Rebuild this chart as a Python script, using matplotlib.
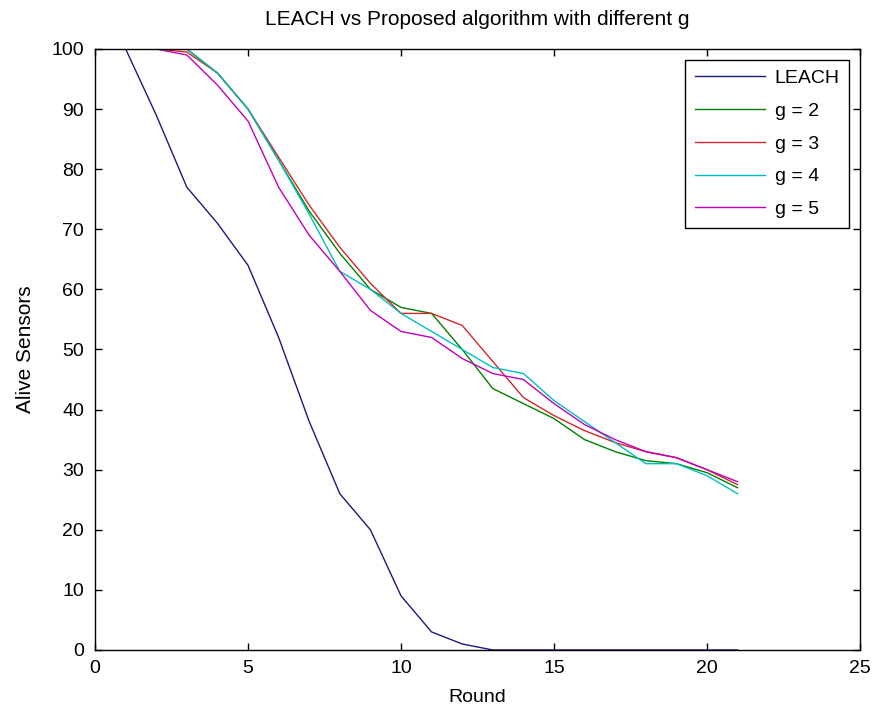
import matplotlib
matplotlib.use("Agg")
import matplotlib.pyplot as plt

rounds = list(range(1, 22))
leach = [100, 89, 77, 71, 64, 52, 38, 26, 20, 9, 3, 1, 0, 0, 0, 0, 0, 0, 0, 0, 0]
g2 = [100, 100, 100, 96, 90, 81.5, 73, 66, 60, 57, 56, 50, 43.5, 41, 38.5, 35, 33, 31.5, 31, 29.5, 27]
g3 = [100, 100, 99.5, 96, 90, 82, 74, 67, 61, 56, 56, 54, 48, 42, 39, 36.5, 34.5, 33, 32, 30, 27.5]
g4 = [100, 100, 100, 96, 90, 81.5, 72.5, 63, 60, 56, 53, 50, 47, 46, 41.5, 38, 34.5, 31, 31, 29, 26]
g5 = [100, 100, 99, 94, 88, 77, 69, 63, 56.5, 53, 52, 48.5, 46, 45, 41, 37.5, 35, 33, 32, 30, 28]

labels = ["LEACH", "g = 2", "g = 3", "g = 4", "g = 5"]
colors = ["#1a1a80", "#008000", "#d02828", "#00bfbf", "#bf00bf"]

plt.rcParams['font.family'] = ['Liberation Sans', 'DejaVu Sans']

fig = plt.figure(figsize=(8.76, 7.16), dpi=100)
ax = fig.add_axes([0.1085, 0.0922, 0.8732, 0.8394])

for ys, lab, c in zip([leach, g2, g3, g4, g5], labels, colors):
    ax.plot(rounds, ys, color=c, lw=1.0, label=lab)

ax.set_xlim(0, 25)
ax.set_ylim(0, 100)
ax.set_xticks(range(0, 26, 5))
ax.set_yticks(range(0, 101, 10))
ax.tick_params(direction='in', top=True, right=True, labelsize=14, length=5, width=1)
ax.tick_params(axis='x', pad=7)
ax.tick_params(axis='y', pad=8)
for s in ax.spines.values():
    s.set_linewidth(1.0)

ax.set_title("LEACH vs Proposed algorithm with different g", fontsize=15, pad=17)
ax.set_xlabel("Round", fontsize=14, labelpad=9)
ax.set_ylabel("Alive Sensors", fontsize=15, labelpad=12)

leg = ax.legend(loc='upper right', fontsize=14, handlelength=3.6, handletextpad=0.5,
                fancybox=False, edgecolor='black', framealpha=1,
                borderaxespad=0.55, labelspacing=0.78, borderpad=0.5)
leg.get_frame().set_linewidth(1.0)

fig.savefig("out.png", dpi=100)
